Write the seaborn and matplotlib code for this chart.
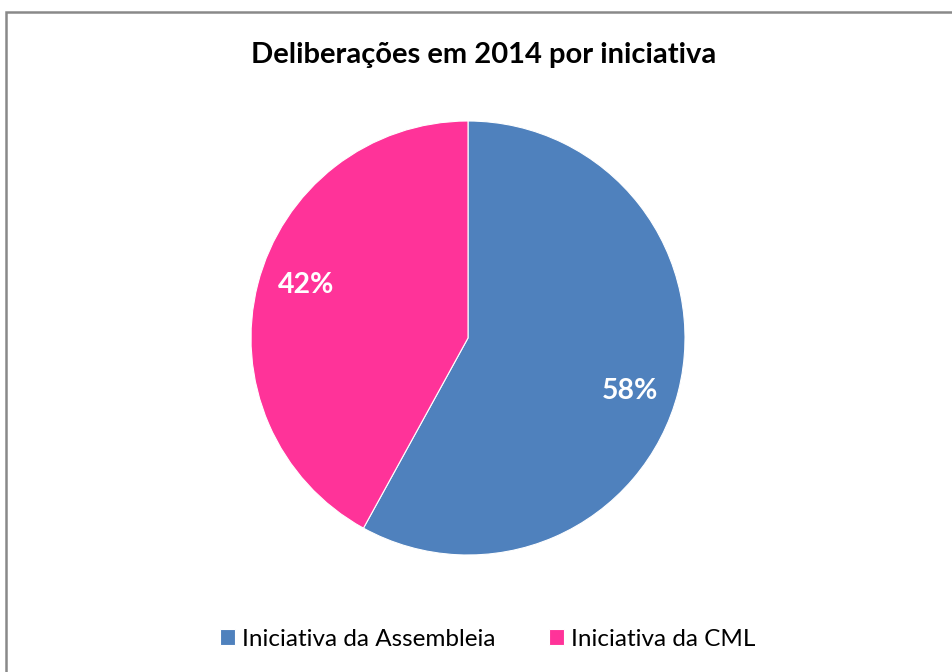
import matplotlib
matplotlib.use("Agg")
import matplotlib.pyplot as plt
import seaborn as sns
import numpy as np
from matplotlib.patches import Rectangle

sns.set_theme(style="white")
plt.rcParams['font.family'] = ['Lato', 'DejaVu Sans']

categories = ["Iniciativa da Assembleia", "Iniciativa da CML"]
values = [58, 42]
colors = ["#4F81BD", "#FF3399"]
title = "Deliberações em 2014 por iniciativa"

fig = plt.figure(figsize=(9.52, 6.72), dpi=100)
fig.patch.set_facecolor("white")

# border (left and top visible, runs off right and bottom)
fig.add_artist(Rectangle((6/952, -0.1), 1.2, 1.1 - 11.5/672, transform=fig.transFigure,
                         fill=False, edgecolor="#898989", linewidth=1.8))

r = 217
cx, cy = 468, 338
ax = fig.add_axes([(cx - r)/952, (672 - cy - r)/672, 2*r/952, 2*r/672])
wedges, texts, autotexts = ax.pie(values, colors=colors, startangle=90, counterclock=False,
                                  autopct=lambda p: f"{p:.0f}%", pctdistance=0.785,
                                  wedgeprops=dict(linewidth=0.8, edgecolor="white"),
                                  textprops=dict(color="white", fontsize=20.5, fontweight="bold"))
# label placement slightly rotated, as in the source chart
for w, t in zip(wedges, autotexts):
    ang = np.deg2rad((w.theta1 + w.theta2) / 2 - 3.8)
    t.set_position((0.785 * np.cos(ang), 0.785 * np.sin(ang)))
ax.set_xlim(-1, 1)
ax.set_ylim(-1, 1)
ax.set_aspect("equal")
ax.axis("off")

fig.text(484/952, 1 - 55/672, title, ha="center", va="center", fontsize=21, fontweight="bold", color="black")

leg = fig.legend(wedges, categories, loc="center", bbox_to_anchor=(488/952, 1 - 639/672), ncol=2,
                 frameon=False, fontsize=17.5, handlelength=0.6, handleheight=0.6,
                 handletextpad=0.3, columnspacing=2.2)
for t in leg.get_texts():
    t.set_color("black")
fig.savefig("out.png", dpi=100, facecolor="white")
